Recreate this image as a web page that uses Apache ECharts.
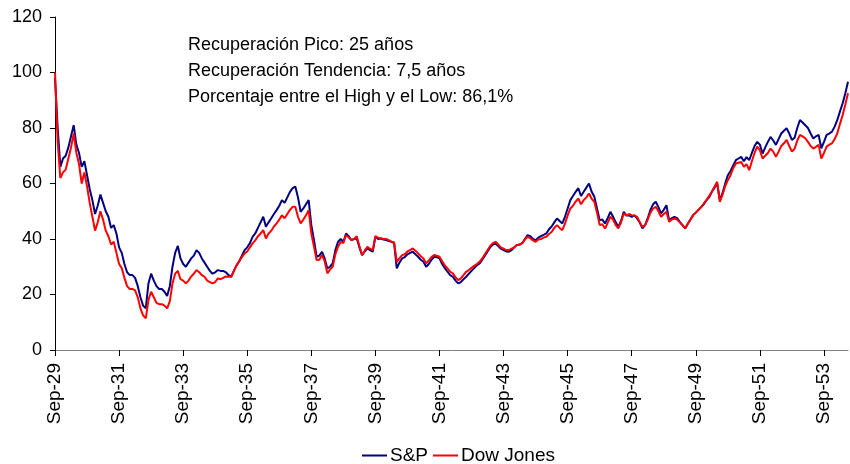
<!DOCTYPE html>
<html>
<head>
    <meta charset="UTF-8">
    <title>S&P vs Dow Jones 1929-1954</title>
    <script src="https://cdn.jsdelivr.net/npm/echarts@6/dist/echarts.min.js"></script>
    <style>
        html, body { margin: 0; padding: 0; background: #fff; }
    </style>
</head>
<body>
    <div id="chart" style="width:850px; height:464px;"></div>
    <script>
        // monthly values, Sep-29 .. Jun-54 (index 100 = Sep-29)
        var firstYear = 1929, firstMonth = 8; // Sep
        var tickLabels = ['Sep-29', 'Sep-31', 'Sep-33', 'Sep-35', 'Sep-37', 'Sep-39', 'Sep-41',
                          'Sep-43', 'Sep-45', 'Sep-47', 'Sep-49', 'Sep-51', 'Sep-53'];

        var sp = [
            98, 80, 66, 69, 70, 73, 77, 81, 74, 71, 66, 68,
            63, 58, 54, 49, 52, 56, 53, 50, 48, 44, 45, 42,
            37, 35, 31, 28, 27, 27, 26, 23, 19, 16, 15, 24,
            27.5, 25, 23, 22, 22, 21, 19.5, 23, 30, 35, 37.5, 33,
            31, 30, 31.5, 33, 34, 36, 35, 33, 31.5, 30, 28.5, 27.5,
            28, 28.8, 28.5, 28.5, 28, 27, 26.4, 28.5, 30.5, 32, 34, 36,
            37, 38.5, 40.8, 42, 44, 46, 48, 44.4, 46, 47.5, 49, 50.4,
            52, 54, 53, 55, 57, 58.3, 58.9, 55, 49.8, 51, 52.5, 54,
            45, 39.6, 33.6, 34, 35.4, 33, 29.4, 30, 31.2, 36, 39, 40,
            39, 42, 41, 39.6, 40, 40.2, 37, 34.2, 35.5, 36.6, 36, 35.4,
            40.8, 40, 40.2, 39.8, 39.6, 39.3, 39, 38.5, 29.4, 31.5, 33, 33.5,
            34.5, 35, 35.4, 34.5, 33.6, 32.5, 31.8, 30, 31, 32.5, 33.6, 33.5,
            33, 31, 29.5, 28.2, 27, 26.4, 25, 24, 24.5, 25.5, 26.4, 27.5,
            28.5, 29.5, 30.5, 31.2, 32.5, 34, 35.5, 37, 38, 38.4, 37.5, 36.5,
            36, 35.5, 35.4, 36, 37, 37.8, 38, 38.5, 40, 41.4, 41, 40,
            39.6, 40.5, 41, 41.5, 42, 43.5, 44.5, 46, 47.4, 46.5, 45.6, 48,
            51, 54, 55.5, 57, 58.3, 55.5, 57, 58.5, 60, 57, 55.2, 51,
            46.8, 47, 45.6, 47.5, 49.8, 48, 46, 44.4, 46.5, 49.8, 48.5, 48.5,
            48, 48.5, 47.4, 46, 43.8, 45, 47.5, 50.5, 52.5, 53.4, 51.5, 49.2,
            50.5, 52.2, 46.8, 47.5, 48, 47.5, 46.2, 45, 43.8, 45.5, 47, 48.6,
            49.5, 50.5, 51.5, 52.5, 54, 55, 57, 58.5, 60, 54, 56.5, 60,
            63, 64.5, 66.5, 68.4, 69, 69.6, 68, 69.5, 68.4, 71, 73.5, 75,
            74, 70.8, 73, 75, 76.8, 75.5, 73.9, 76, 78, 79, 79.9, 78,
            75.7, 76.5, 80, 82.9, 82, 81, 80, 78, 76.2, 77, 77.5, 72.7,
            75, 77.5, 78, 78.7, 80.5, 82.9, 86, 88.9, 92.5, 96.7
        ];

        var dow = [
            100, 75, 62, 64, 65, 69, 73, 78, 71, 67, 60, 64,
            59, 53, 48, 43, 46, 50, 47, 43, 41, 38, 39, 35,
            31, 29.5, 26, 23, 22, 22, 21.5, 19, 15, 12.5, 11.4, 18,
            21, 19, 17, 16.5, 16.5, 16, 15, 17.5, 24, 27.5, 28.5, 25.5,
            25, 24, 25, 26.5, 27.5, 28.8, 28, 27, 26.4, 25, 24.5, 24,
            24.5, 25.8, 25.5, 26, 26.5, 26.4, 26.4, 28.5, 30.5, 32, 33.5, 34.8,
            35.5, 37, 38.4, 39.5, 41, 42, 43.2, 40.2, 42, 43, 44.5, 45.6,
            47, 48.5, 47.5, 49, 50.5, 51.6, 51.6, 48, 45.6, 47, 48.5, 50.4,
            42, 37.2, 32.4, 32.5, 34.2, 32, 27.6, 29, 30, 34.5, 37.2, 39,
            38.5, 41.4, 40.5, 39.6, 40, 41, 37.5, 34.2, 35.8, 37.2, 36.5, 36,
            41, 40.5, 40.3, 40, 40, 39.6, 39, 38.8, 31.8, 33, 34.2, 34.5,
            35.5, 36, 36.6, 35.8, 34.8, 33.8, 33, 31.2, 32.3, 33.5, 34.2, 34,
            33.6, 32, 30.5, 29.4, 28.2, 27.6, 26.2, 25.2, 25.8, 27, 28.2, 28.8,
            29.6, 30.3, 31, 31.8, 33, 34.5, 36, 37.5, 38.5, 39, 38, 37,
            36.5, 36, 36, 36.5, 37, 37.8, 38, 38.5, 39.8, 40.8, 40.3, 39.5,
            39, 39.8, 40, 40.5, 40.8, 41.8, 42.5, 44, 45, 44, 43.2, 45.5,
            48.5, 51, 52, 53.5, 54.6, 52.5, 54, 55, 56.4, 54.5, 53.4, 49.5,
            45, 45.3, 43.8, 45.8, 48, 47, 45, 43.8, 46, 49.2, 48.5, 49,
            48.6, 48.5, 48, 46, 44.4, 45, 47, 49.5, 51, 51.6, 50, 48,
            49, 49.8, 46.2, 47, 47.4, 47, 46, 45, 43.8, 45.5, 47, 48.6,
            49.5, 50.5, 51.5, 52.8, 54, 55.5, 57, 58.8, 60.6, 53.4, 56, 59,
            61.2, 63, 65.5, 67.2, 67.5, 67.8, 66, 67, 64.8, 68, 71, 73.3,
            72, 69, 70, 71, 72.6, 71.5, 69.6, 71.5, 73.5, 74.5, 75.7, 73.5,
            71.5, 72.5, 75.5, 77.5, 77, 76.3, 75, 73.5, 72.6, 73.2, 73.9, 69,
            71, 73.3, 74, 74.5, 76, 78.1, 81.5, 84.7, 88.5, 92.5
        ];

        var monthNames = ['Jan', 'Feb', 'Mar', 'Apr', 'May', 'Jun', 'Jul', 'Aug', 'Sep', 'Oct', 'Nov', 'Dec'];
        var months = [];
        for (var i = 0; i < sp.length; i++) {
            var m = firstMonth + i;
            var yy = (firstYear + Math.floor(m / 12)) % 100;
            months.push(monthNames[m % 12] + '-' + (yy < 10 ? '0' + yy : yy));
        }

        var font = "'Liberation Sans', Arial, sans-serif";
        var chart = echarts.init(document.getElementById('chart'), null, {renderer: 'canvas'});

        chart.setOption({
            animation: false,
            backgroundColor: '#fff',
            grid: {left: 55, right: 2, top: 17, bottom: 114, containLabel: false},
            legend: {
                top: 446,
                left: 362,
                padding: 0,
                itemGap: 5,
                itemWidth: 25,
                itemHeight: 2,
                icon: 'rect',
                textStyle: {fontFamily: font, fontSize: 19, color: '#000', padding: [0, 0, 0, -2]},
                data: ['S&P', 'Dow Jones']
            },
            graphic: [{
                type: 'text',
                left: 188,
                top: 32,
                style: {
                    text: 'Recuperación Pico: 25 años\nRecuperación Tendencia: 7,5 años\nPorcentaje entre el High y el Low: 86,1%',
                    font: '18px ' + font,
                    lineHeight: 26,
                    fill: '#000'
                }
            }],
            xAxis: {
                type: 'category',
                boundaryGap: false,
                data: months,
                axisLine: {lineStyle: {color: '#808080', width: 1}},
                axisTick: {
                    interval: function (idx, val) { return tickLabels.indexOf(val) >= 0; },
                    length: 6,
                    lineStyle: {color: '#000'}
                },
                axisLabel: {
                    interval: function (idx, val) { return tickLabels.indexOf(val) >= 0; },
                    rotate: 90,
                    margin: 13,
                    fontFamily: font,
                    fontSize: 19,
                    color: '#000'
                },
                splitLine: {show: false}
            },
            yAxis: {
                type: 'value',
                min: 0,
                max: 120,
                interval: 20,
                axisLine: {show: true, lineStyle: {color: '#000', width: 1}},
                axisTick: {show: true, length: 5, lineStyle: {color: '#000'}},
                axisLabel: {fontFamily: font, fontSize: 18, color: '#000', margin: 13},
                splitLine: {show: false}
            },
            series: [{
                name: 'S&P',
                type: 'line',
                data: sp,
                showSymbol: false,
                color: '#000080',
                lineStyle: {width: 2, color: '#000080'}
            }, {
                name: 'Dow Jones',
                type: 'line',
                data: dow,
                showSymbol: false,
                color: '#ff0000',
                lineStyle: {width: 2, color: '#ff0000'}
            }]
        });
    </script>
</body>
</html>
